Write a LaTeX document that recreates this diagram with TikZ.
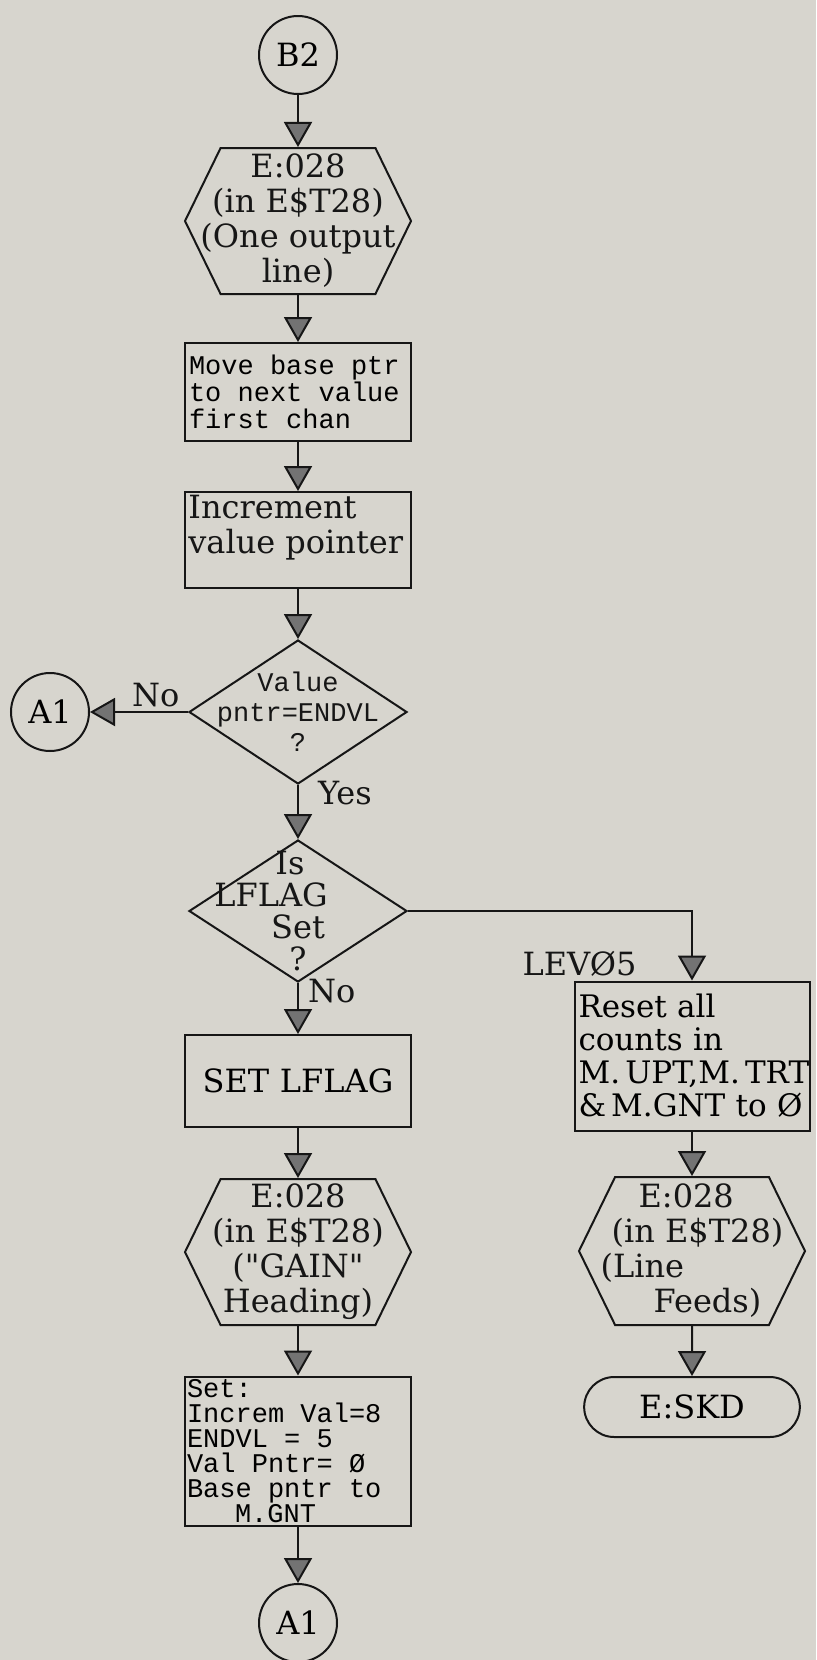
\documentclass[tikz,border=0pt]{standalone}
\usepackage{fontspec}
\setmainfont{DejaVu Serif}
\newfontfamily\fcfont{DejaVu Serif}
\newfontfamily\typefont{Liberation Mono}
\usetikzlibrary{arrows.meta,shapes.geometric,shapes.symbols,shapes.misc}

\definecolor{paper}{RGB}{215,213,206}
\definecolor{ink}{RGB}{22,22,22}
\newcommand{\fcserif}{\fcfont\fontsize{16}{17.5}\selectfont}
\newcommand{\fcmono}{\typefont\fontsize{13.5}{13.5}\selectfont}
\newcommand{\fcwide}{\spaceskip=0.6em\relax}

\tikzset{
  fcconn/.style={circle, draw=ink, line width=1pt, minimum size=39pt, inner sep=0pt, font=\fcserif},
  fcio/.style={signal, signal to=east and west, signal pointer angle=128, draw=ink, line width=1pt, minimum width=113pt, minimum height=73pt, inner sep=0pt},
  fcbox/.style={draw=ink, line width=1pt, inner sep=2pt, text width=109pt, align=left, font=\fcserif},
  fcdec/.style={diamond, draw=ink, line width=1pt, minimum width=109pt, minimum height=72pt, inner sep=0pt},
  fcend/.style={rounded rectangle, draw=ink, line width=1pt, minimum width=114.5pt, minimum height=30pt, font=\fcserif},
  fcarr/.style={draw=ink, line width=1pt, -{Triangle[width=14pt, length=12.5pt, fill=black!55]}},
  fclab/.style={font=\fcserif, inner sep=2pt, text=ink}
}

\begin{document}
\begin{tikzpicture}[x=0.5pt,y=-0.5pt]
    \useasboundingbox[fill=paper] (0,0) rectangle (816,1660);

    % left column
    \node[fcconn] (b2) at (298,55) {B2};
    \node[fcio, label={[fclab, align=center, inner sep=0pt]center:{E:028\\(in E\$T28)\\(One output\\line)}}] (h1) at (298,221) {};
    \node[fcbox, font=\fcmono, minimum height=49pt] (mv) at (298,392) {\fcwide Move base ptr\\to next value\\first chan};
    \node[fcbox, minimum height=48pt, label={[fclab, anchor=north west, align=left]north west:{Increment\\value pointer}}] (inc) at (298,540) {};
    \node[fcdec, label={[fclab, align=center, inner sep=0pt, font=\typefont\fontsize{13.5}{15}\selectfont]center:{Value\\pntr=ENDVL\\?}}] (d1) at (298,712) {};
    \node[fcconn] (a1) at (50,712) {A1};
    \node[fcdec, minimum height=71pt, label={[fclab, align=center, inner sep=0pt, font=\fcfont\fontsize{16}{16}\selectfont]center:{\hspace*{-8pt}Is\\\hspace*{-27pt}LFLAG\\Set\\?}}] (d2) at (298,911) {};
    \node[fcbox, align=center, minimum height=46pt] (slf) at (298,1081) {SET LFLAG};
    \node[fcio, label={[fclab, align=center, inner sep=0pt]center:{E:028\\(in E\$T28)\\("GAIN"\\Heading)}}] (h2) at (298,1252) {};
    \node[fcbox, inner sep=1pt, text width=111pt, font=\typefont\fontsize{13.5}{12.5}\selectfont, minimum height=74.5pt] (setb) at (298,1451) {\fcwide Set:\\Increm Val=8\\ENDVL = 5\\Val Pntr= Ø\\Base pntr to\\\hspace*{24pt}M.GNT};
    \node[fcconn] (a1b) at (298,1623) {A1};

    % right column
    \node[fcbox, text width=113.5pt, minimum height=74.5pt, font=\fcfont\fontsize{15.5}{16.5}\selectfont, label={[fclab, anchor=south, xshift=3pt]north west:LEVØ5}] (rst) at (692,1056) {Reset~all\\counts~in\\M.\,UPT,M.\,TRT\\\&\,M.GNT~to~Ø};
    \node[fcio, minimum height=74pt, label={[fclab, align=left, inner sep=0pt]center:{\hspace*{19pt}E:028\\\hspace*{5.5pt}(in E\$T28)\\(Line\\\hspace*{26.5pt}Feeds)}}] (h3) at (692,1251) {};
    \node[fcend] (skd) at (692,1407) {E:SKD};

    \draw[fcarr] (b2) -- (h1);
    \draw[fcarr] (h1) -- (mv);
    \draw[fcarr] (mv) -- (inc);
    \draw[fcarr] (inc) -- (d1);
    \draw[fcarr] (d1) -- node[fclab, pos=0.33, above] {No} (a1);
    \draw[fcarr] (d1) -- node[fclab, pos=0.15, right, xshift=7.5pt] {Yes} (d2);
    \draw[fcarr] (d2.east) -| (rst.north);
    \draw[fcarr] (d2) -- node[fclab, pos=0.15, right, xshift=2.5pt] {No} (slf);
    \draw[fcarr] (slf) -- (h2);
    \draw[fcarr] (h2) -- (setb);
    \draw[fcarr] (setb) -- (a1b);
    \draw[fcarr] (rst) -- (h3);
    \draw[fcarr] (h3) -- (skd);
\end{tikzpicture}
\end{document}
